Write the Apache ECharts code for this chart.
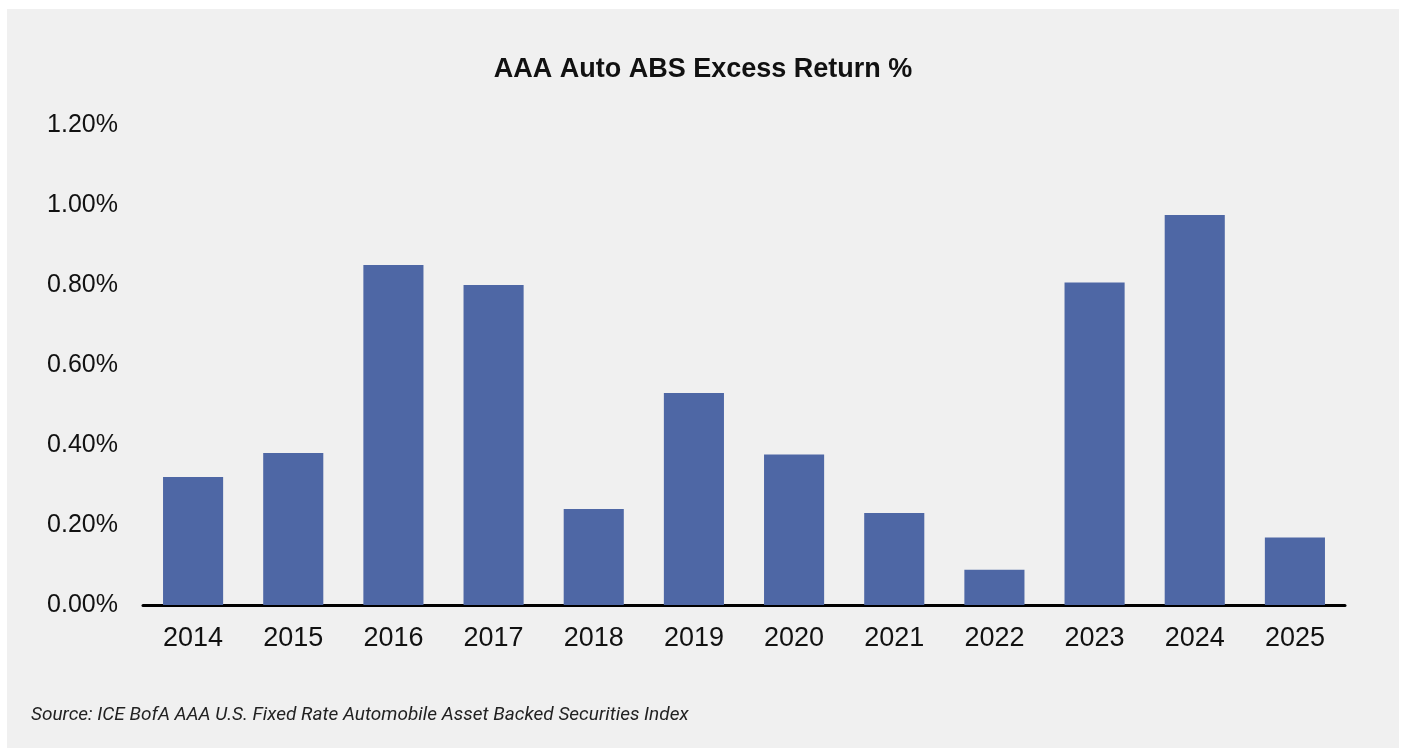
<!DOCTYPE html>
<html>
<head>
<meta charset="utf-8">
<script src="https://cdn.jsdelivr.net/npm/echarts@6/dist/echarts.min.js"></script>
<style>
  html, body { margin: 0; padding: 0; background: #ffffff; }
  #chart { position: absolute; left: 7px; top: 9px; width: 1392px; height: 739px; background: #f0f0f0; }
</style>
</head>
<body>
<div id="chart"></div>
<script>
const years = ["2014", "2015", "2016", "2017", "2018", "2019", "2020", "2021", "2022", "2023", "2024", "2025"];
const excessReturn = [0.32, 0.38, 0.85, 0.80, 0.24, 0.53, 0.376, 0.23, 0.088, 0.806, 0.975, 0.169];
const yTicks = { min: 0, max: 1.2, step: 0.2 };

const chart = echarts.init(document.getElementById("chart"), null, { renderer: "canvas" });

chart.setOption({
  backgroundColor: "#f0f0f0",
  animation: false,
  title: {
    text: "AAA Auto ABS Excess Return %",
    left: "center",
    top: 42,
    textStyle: { fontFamily: "Liberation Sans", fontWeight: "bold", fontSize: 27, color: "#111" },
  },
  graphic: [
    {
      type: "text",
      left: 24,
      top: 697,
      style: {
        text: "Source: ICE BofA AAA U.S. Fixed Rate Automobile Asset Backed Securities Index",
        font: "italic 19px Roboto",
        fill: "#222",
      },
    },
  ],
  grid: { left: 136, right: 54, top: 116, bottom: 143 },
  xAxis: {
    type: "category",
    data: years,
    axisTick: { show: false },
    axisLine: { lineStyle: { color: "#000", width: 3 } },
    axisLabel: { color: "#111", fontSize: 27, fontFamily: "Liberation Sans", margin: 20 },
  },
  yAxis: {
    type: "value",
    min: yTicks.min,
    max: yTicks.max,
    interval: yTicks.step,
    splitLine: { show: false },
    axisLine: { show: false },
    axisTick: { show: false },
    axisLabel: {
      color: "#111",
      fontSize: 25,
      fontFamily: "Liberation Sans",
      margin: 25,
      padding: [4, 0, 0, 0],
      formatter: (v) => v.toFixed(2) + "%",
    },
  },
  series: [
    {
      type: "bar",
      data: excessReturn,
      barWidth: "60%",
      itemStyle: { color: "#4e67a5" },
    },
  ],
});
</script>
</body>
</html>
